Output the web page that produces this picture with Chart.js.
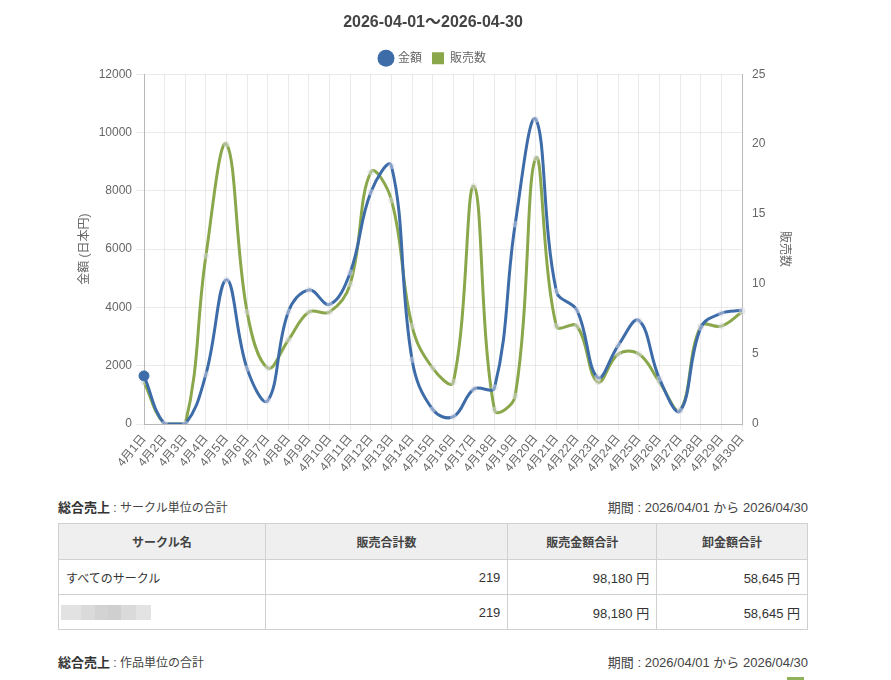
<!DOCTYPE html>
<html lang="ja">
<head>
<meta charset="utf-8">
<script src="https://cdn.jsdelivr.net/npm/chart.js@4.4.1/dist/chart.umd.min.js"></script>
<style>
  html, body { margin: 0; padding: 0; background: #fff; }
  body { width: 891px; height: 680px; position: relative; overflow: hidden;
         font-family: "Liberation Sans", "Noto Sans CJK JP", sans-serif; color: #333; }
  #chartBox { position: absolute; left: 58px; top: 0; width: 750px; height: 485px; }
  .head { position: absolute; left: 58px; width: 750px; font-size: 12px; color: #444; }
  .head b { font-size: 13px; color: #333; }
  .head .r { position: absolute; right: 0; top: 0; font-size: 13px; color: #444; }
  table { position: absolute; left: 58px; top: 523px; width: 750px; border-collapse: collapse; font-size: 12px; color: #333; }
  th, td { border: 1px solid #d0d0d0; }
  th { background: #efefef; height: 33px; font-weight: bold; color: #444; text-align: center; }
  td { height: 34px; padding: 0 7px; }
  td.n { text-align: right; font-size: 13px; }
  .blur { width: 90px; height: 15px; margin-left: -5px;
          background: linear-gradient(90deg, #e2e2e2 0 20px, #dadada 20px 34px, #d3d3d3 34px 47px, #cfcfcf 47px 60px, #dadada 60px 75px, #e3e3e3 75px 90px); }
  #greenTag { position: absolute; left: 787px; top: 677px; width: 17px; height: 17px; background: #8fb25a; }
</style>
</head>
<body>
<div id="chartBox"><canvas id="c"></canvas></div>

<div class="head" style="top:497px;"><b>総合売上</b> : サークル単位の合計<span class="r">期間 : 2026/04/01 から 2026/04/30</span></div>

<table>
  <colgroup><col style="width:207px"><col style="width:243px"><col style="width:149px"><col style="width:151px"></colgroup>
  <tr><th>サークル名</th><th>販売合計数</th><th>販売金額合計</th><th>卸金額合計</th></tr>
  <tr><td>すべてのサークル</td><td class="n">219</td><td class="n">98,180 円</td><td class="n">58,645 円</td></tr>
  <tr><td><div class="blur"></div></td><td class="n">219</td><td class="n">98,180 円</td><td class="n">58,645 円</td></tr>
</table>

<div class="head" style="top:652px;"><b>総合売上</b> : 作品単位の合計<span class="r">期間 : 2026/04/01 から 2026/04/30</span></div>
<div id="greenTag"></div>

<script>
const chartTitle = "2026-04-01〜2026-04-30";
const days = ["4月1日","4月2日","4月3日","4月4日","4月5日","4月6日","4月7日","4月8日","4月9日","4月10日",
              "4月11日","4月12日","4月13日","4月14日","4月15日","4月16日","4月17日","4月18日","4月19日","4月20日",
              "4月21日","4月22日","4月23日","4月24日","4月25日","4月26日","4月27日","4月28日","4月29日","4月30日"];
const amounts = [1650,0,0,1700,4950,1900,800,3850,4600,4100,5200,7950,8850,2200,500,250,1200,1250,6850,10450,
                 4550,3900,1600,2700,3550,1550,450,3300,3800,3900];
const counts = [3,0,0,12,20,8,4,6,8,8,10,18,16,7,4,3,17,1,2,19,7,7,3,5,5,3,1,7,7,8];
const seriesNames = ["金額", "販売数"];
const leftTicks = { min: 0, max: 12000, step: 2000 };
const rightTicks = { min: 0, max: 25, step: 5 };

const BLUE = "#3d6ca9";
const GREEN = "#8aa74b";
const legendStyles = ["circle", "rect"];
const FONT = '"Liberation Sans", "Noto Sans CJK JP", sans-serif';

Chart.defaults.font.family = FONT;
Chart.defaults.color = "#666";

const faintPoint = "rgba(225,225,235,0.45)";

new Chart(document.getElementById("c"), {
  type: "line",
  data: {
    labels: days,
    datasets: [
      {
        label: seriesNames[0], data: amounts, yAxisID: "y",
        borderColor: BLUE, backgroundColor: BLUE, borderWidth: 3, tension: 0.4, fill: false,
        pointRadius: (ctx) => ctx.dataIndex === 0 ? 5 : 3,
        pointBackgroundColor: (ctx) => ctx.dataIndex === 0 ? BLUE : faintPoint,
        pointBorderColor: (ctx) => ctx.dataIndex === 0 ? BLUE : "rgba(210,210,220,0.25)",
        pointBorderWidth: 1
      },
      {
        label: seriesNames[1], data: counts, yAxisID: "y1",
        borderColor: GREEN, backgroundColor: GREEN, borderWidth: 3, tension: 0.4, fill: false,
        pointRadius: 3, pointBackgroundColor: faintPoint, pointBorderColor: "rgba(210,210,220,0.25)", pointBorderWidth: 1
      }
    ]
  },
  options: {
    responsive: true,
    maintainAspectRatio: false,
    animation: false,
    layout: { padding: { top: 0, bottom: 0, left: 0, right: 0 } },
    plugins: {
      title: { display: true, text: chartTitle, color: "#444", font: { size: 16, weight: "bold", family: FONT },
               padding: { top: 13, bottom: 10 } },
      legend: {
        display: true, position: "top",
        labels: {
          usePointStyle: true, boxHeight: 12, boxWidth: 12, color: "#666", font: { size: 12 }, padding: 10,
          generateLabels: (chart) => {
            const items = Chart.defaults.plugins.legend.labels.generateLabels(chart);
            items.forEach((it, i) => { it.pointStyle = legendStyles[i]; it.fillStyle = i === 0 ? BLUE : GREEN; it.strokeStyle = it.fillStyle; it.lineWidth = 0; });
            return items;
          }
        }
      },
      tooltip: { enabled: false }
    },
    scales: {
      x: {
        offset: false,
        grid: { color: "rgba(0,0,0,0.08)", tickLength: 6 },
        border: { color: "#b8b8b8" },
        ticks: { autoSkip: false, maxRotation: 50, minRotation: 50, color: "#666", font: { size: 12 }, padding: 2 },
        afterFit: (s) => { s.height = 61; }
      },
      y: {
        position: "left", min: leftTicks.min, max: leftTicks.max,
        ticks: { stepSize: leftTicks.step, color: "#666", font: { size: 12 }, padding: 4, callback: (v) => String(v) },
        grid: { color: "rgba(0,0,0,0.08)", tickLength: 8 },
        border: { color: "#b8b8b8" },
        title: { display: true, text: "金額 (日本円)", color: "#666", font: { size: 12 }, padding: { top: 19, bottom: 4 } },
        afterFit: (s) => { s.width = 86; }
      },
      y1: {
        position: "right", min: rightTicks.min, max: rightTicks.max,
        ticks: { stepSize: rightTicks.step, color: "#666", font: { size: 12 }, padding: 2, callback: (v) => String(v) },
        grid: { display: false, drawOnChartArea: false },
        border: { display: true, color: "#b8b8b8" },
        title: { display: true, text: "販売数", color: "#666", font: { size: 12 }, padding: { top: 16, bottom: 4 } },
        afterFit: (s) => { s.width = 66; }
      }
    }
  }
});
</script>
</body>
</html>
